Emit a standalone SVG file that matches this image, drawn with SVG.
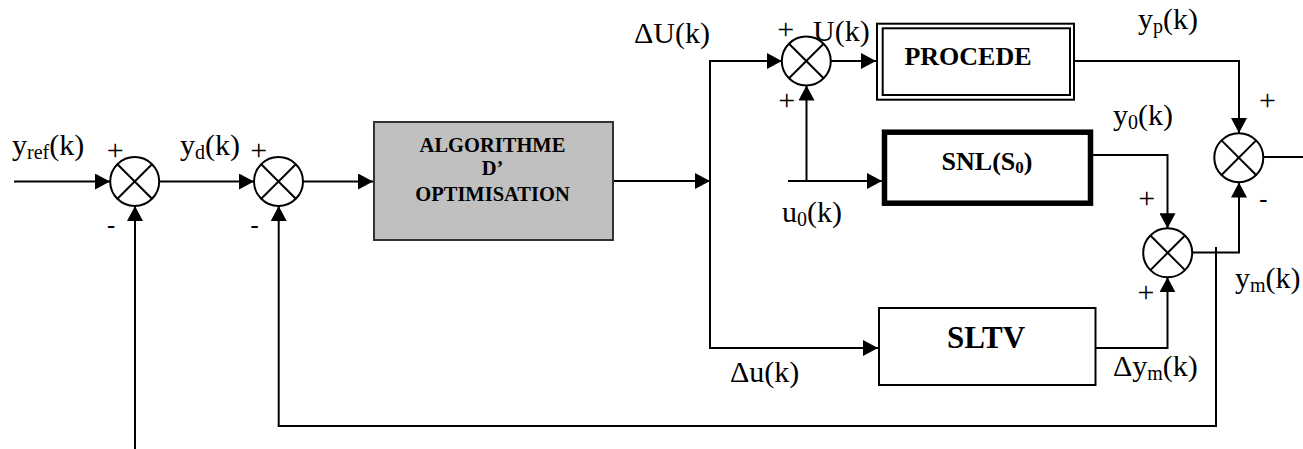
<svg xmlns="http://www.w3.org/2000/svg" width="1303" height="449" viewBox="0 0 1303 449">
<style>
.ln{fill:none;stroke:#000;stroke-width:2}
.sum circle{fill:#fff;stroke:#000;stroke-width:2}
.sum line{stroke:#000;stroke-width:2}
.lbl{font-family:"Liberation Serif","Times New Roman",serif;font-size:30px;fill:#000}
.sub{font-size:20px}
.pl{font-family:"Liberation Serif","Times New Roman",serif;font-size:30px;fill:#000;text-anchor:middle}
.mi{font-family:"Liberation Sans",Arial,sans-serif;font-size:26px;fill:#000;text-anchor:middle}
.bx{font-family:"Liberation Serif","Times New Roman",serif;font-weight:bold;fill:#000;text-anchor:middle}
</style>
<defs>
<marker id="ah" markerUnits="userSpaceOnUse" markerWidth="15" markerHeight="16" refX="15" refY="8" orient="auto">
<path d="M0,0 L15,8 L0,16 z" fill="#000"/>
</marker>
<g id="sumsym" class="sum">
<circle cx="0" cy="0" r="24.5"/>
<line x1="-17.3" y1="-17.3" x2="17.3" y2="17.3"/>
<line x1="-17.3" y1="17.3" x2="17.3" y2="-17.3"/>
</g>
</defs>
<g id="connectors" class="ln" marker-end="url(#ah)">
<path d="M14,181.5 H110"/>
<path d="M159.2,181.5 H254"/>
<path d="M303,181.5 H373"/>
<path d="M613,181 H710"/>
<path d="M710,181 V61 H781.8"/>
<path d="M710,181 V348 H878"/>
<path d="M830.8,61 H876"/>
<path d="M788,181 H882"/>
<path d="M806.5,181 V85.5"/>
<path d="M1075,61 H1239 V133"/>
<path d="M1092.7,155 H1167.5 V228.3"/>
<path d="M1096,348 H1167.5 V277.3"/>
<path d="M1192.2,252.5 H1239 V182.5"/>
<path d="M1263.5,157 H1303" marker-end="none"/>
<path d="M1216,247 V426 H278.7 V206"/>
<path d="M135,449 V206"/>
</g>
<g id="sum1"><use href="#sumsym" x="134.7" y="181.5"/></g>
<g id="sum2"><use href="#sumsym" x="278.5" y="181.5"/></g>
<g id="sum3"><use href="#sumsym" x="806.3" y="61"/></g>
<g id="sum4"><use href="#sumsym" x="1238.8" y="157.7"/></g>
<g id="sum5"><use href="#sumsym" x="1167.7" y="252.8"/></g>
<g id="algo">
<rect x="374" y="122" width="239" height="118" fill="#c0c0c0" stroke="#333" stroke-width="2"/>
<text class="bx" font-size="20.5" x="492.5" y="151.7">ALGORITHME</text>
<text class="bx" font-size="20.5" x="492.5" y="175">D’</text>
<text class="bx" font-size="20.5" x="492.5" y="200.7">OPTIMISATION</text>
</g>
<g id="procede">
<rect x="877" y="23.7" width="197" height="76" fill="#fff" stroke="#000" stroke-width="2"/>
<rect x="882.7" y="28.3" width="187.3" height="66.7" fill="none" stroke="#000" stroke-width="2"/>
<text class="bx" font-size="26" x="968" y="65">PROCEDE</text>
</g>
<g id="snl">
<rect x="884.5" y="132.2" width="206" height="71" fill="#fff" stroke="#000" stroke-width="5.5"/>
<text class="bx" font-size="26" x="987" y="170">SNL(S<tspan font-size="17" dy="3">0</tspan><tspan dy="-3">)</tspan></text>
</g>
<g id="sltv">
<rect x="879" y="308" width="216.5" height="77" fill="#fff" stroke="#000" stroke-width="2"/>
<text class="bx" font-size="31" x="986" y="348.3">SLTV</text>
</g>
<g id="labels">
<text class="lbl" x="12" y="155">y<tspan class="sub" dy="4">ref</tspan><tspan dy="-4">(k)</tspan></text>
<text class="lbl" x="180" y="155">y<tspan class="sub" dy="4">d</tspan><tspan dy="-4">(k)</tspan></text>
<text class="lbl" x="634" y="43">ΔU(k)</text>
<text class="lbl" x="813" y="41">U(k)</text>
<text class="lbl" x="1138" y="29">y<tspan class="sub" dy="4">p</tspan><tspan dy="-4">(k)</tspan></text>
<text class="lbl" x="1113" y="125">y<tspan class="sub" dy="4">0</tspan><tspan dy="-4">(k)</tspan></text>
<text class="lbl" x="782" y="221.7">u<tspan class="sub" dy="4">0</tspan><tspan dy="-4">(k)</tspan></text>
<text class="lbl" x="730" y="381.7">Δu(k)</text>
<text class="lbl" x="1113" y="376">Δy<tspan class="sub" dy="4">m</tspan><tspan dy="-4">(k)</tspan></text>
<text class="lbl" x="1235" y="288.3">y<tspan class="sub" dy="4">m</tspan><tspan dy="-4">(k)</tspan></text>
<text class="pl" x="115.3" y="160">+</text>
<text class="pl" x="258.7" y="160">+</text>
<text class="mi" x="111" y="234">-</text>
<text class="mi" x="254.7" y="234">-</text>
<text class="pl" x="785.8" y="38.5">+</text>
<text class="pl" x="786.7" y="109.5">+</text>
<text class="pl" x="1267.5" y="110">+</text>
<text class="mi" x="1263.3" y="207.5">-</text>
<text class="pl" x="1146.7" y="207.5">+</text>
<text class="pl" x="1146" y="301.5">+</text>
</g>
</svg>
